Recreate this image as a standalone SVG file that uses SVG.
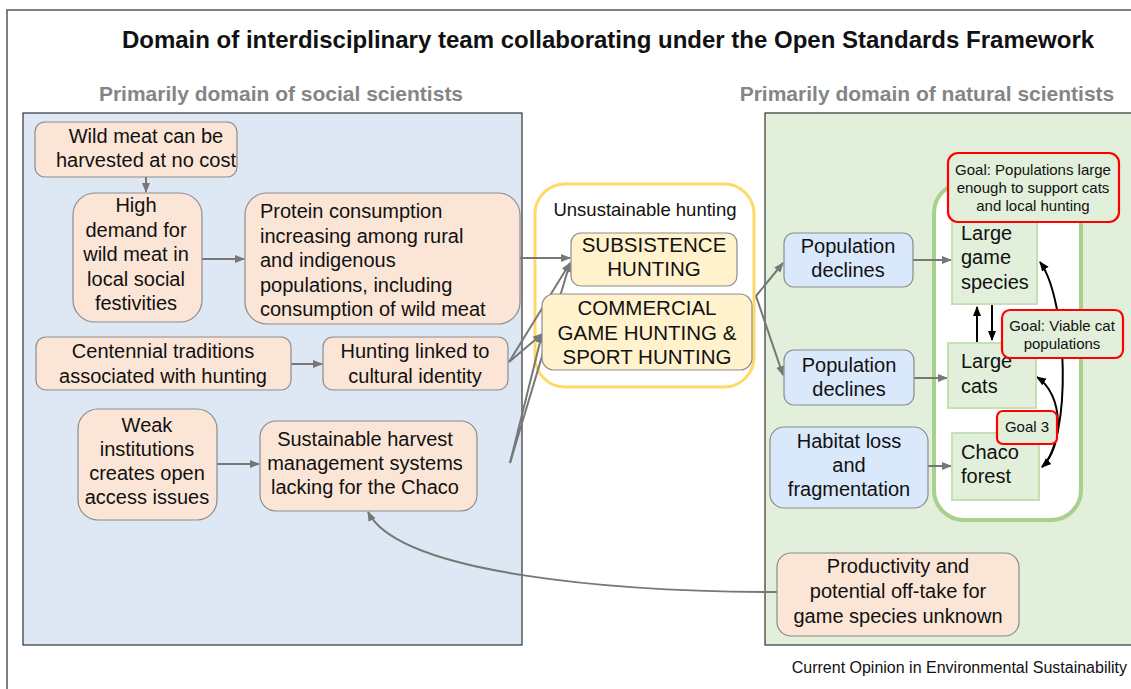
<svg xmlns="http://www.w3.org/2000/svg" width="1131" height="689" viewBox="0 0 1131 689">
<defs>
<style>
text{font-family:"Liberation Sans",Arial,sans-serif;fill:#111}
.t{font-size:20px;text-anchor:middle}
.tl{font-size:20px}
.g{font-size:15px;text-anchor:middle}
.peach{fill:#fbe5d6;stroke:#8c8c8c;stroke-width:1.2}
.blue{fill:#dae8fc;stroke:#8c8c8c;stroke-width:1.2}
.yel{fill:#fff2cc;stroke:#8c8c8c;stroke-width:1.2}
.gb{fill:#e2efda;stroke:#c5e0b4;stroke-width:2}
.goal{fill:#e2efda;stroke:#ff0000;stroke-width:2.2}
.c{fill:none;stroke:#777;stroke-width:2}
.k{fill:none;stroke:#000;stroke-width:2}
</style>
<marker id="ag" viewBox="0 0 10 10" refX="9" refY="5" markerWidth="5" markerHeight="5" orient="auto-start-reverse"><path d="M0,1 L10,5 L0,9 z" fill="#777"/></marker>
<marker id="ak" viewBox="0 0 10 10" refX="9" refY="5" markerWidth="5" markerHeight="5" orient="auto-start-reverse"><path d="M0,1 L10,5 L0,9 z" fill="#000"/></marker>
</defs>
<rect width="1131" height="689" fill="#fff"/>
<path d="M7,689 V10 H1131" fill="none" stroke="#555" stroke-width="1.5"/>
<text x="608" y="48" style="font-size:24px;font-weight:bold;text-anchor:middle">Domain of interdisciplinary team collaborating under the Open Standards Framework</text>
<text x="281" y="101" style="font-size:21px;font-weight:bold;text-anchor:middle;fill:#858585">Primarily domain of social scientists</text>
<text x="927" y="101" style="font-size:21px;font-weight:bold;text-anchor:middle;fill:#858585">Primarily domain of natural scientists</text>
<text x="1127" y="673" style="font-size:16px;text-anchor:end">Current Opinion in Environmental Sustainability</text>

<g id="panel-social"><rect x="23" y="113" width="499" height="532" fill="#dde8f4" stroke="#333" stroke-width="1.2"/></g>
<g id="panel-natural"><rect x="765" y="113" width="370" height="532" fill="#e2efda" stroke="#333" stroke-width="1.2"/></g>

<g id="unsustainable">
<rect x="535" y="184" width="219" height="203" rx="30" fill="#fff" stroke="#ffd966" stroke-width="3"/>
<text x="645" y="216" style="font-size:18.5px;text-anchor:middle">Unsustainable hunting</text>
</g>
<g id="natural-container"><rect x="934" y="183" width="147" height="337" rx="30" fill="#fff" stroke="#a9d18e" stroke-width="4"/></g>

<g id="connectors">
<path class="c" d="M146,177 V192" marker-end="url(#ag)"/>
<path class="c" d="M202,259 H244" marker-end="url(#ag)"/>
<path class="c" d="M291,364 H322" marker-end="url(#ag)"/>
<path class="c" d="M217,464 H259" marker-end="url(#ag)"/>
<path class="c" d="M520,258 H570" marker-end="url(#ag)"/>
<path class="c" d="M509,362 L570,263" marker-end="url(#ag)"/>
<path class="c" d="M509,362 L542,334" marker-end="url(#ag)"/>
<path class="c" d="M510,463 L570,263" marker-end="url(#ag)"/>
<path class="c" d="M510,463 L542,334" marker-end="url(#ag)"/>
<path class="c" d="M756,296 L783,263" marker-end="url(#ag)"/>
<path class="c" d="M756,296 L783,375" marker-end="url(#ag)"/>
<path class="c" d="M913,260 H951" marker-end="url(#ag)"/>
<path class="c" d="M914,378 H947" marker-end="url(#ag)"/>
<path class="c" d="M928,466 H951" marker-end="url(#ag)"/>
<path class="c" d="M778,592 C620,592 400,575 368,512" marker-end="url(#ag)"/>
<path class="k" d="M977,342 V307" marker-end="url(#ak)"/>
<path class="k" d="M992,304 V340" marker-end="url(#ak)"/>
<path class="k" d="M1042,467 C1072,440 1068,300 1040,262" marker-start="url(#ak)" marker-end="url(#ak)"/>
<path class="k" d="M1042,467 C1064,445 1064,395 1037,377" marker-end="url(#ak)"/>
</g>

<g id="n-wildmeat"><rect class="peach" x="35" y="122" width="202" height="55" rx="10"/>
<text class="t" x="146" y="143">Wild meat can be</text><text class="t" x="146" y="167">harvested at no cost</text></g>
<g id="n-highdemand"><rect class="peach" x="73" y="193" width="129" height="129" rx="22"/>
<text class="t" x="136" y="212">High</text><text class="t" x="136" y="236.5">demand for</text><text class="t" x="136" y="261">wild meat in</text><text class="t" x="136" y="285.5">local social</text><text class="t" x="136" y="310">festivities</text></g>
<g id="n-protein"><rect class="peach" x="245" y="193" width="275" height="131" rx="22"/>
<text class="tl" x="260" y="218">Protein consumption</text><text class="tl" x="260" y="242.5">increasing among rural</text><text class="tl" x="260" y="267">and indigenous</text><text class="tl" x="260" y="291.5">populations, including</text><text class="tl" x="260" y="316">consumption of wild meat</text></g>
<g id="n-centennial"><rect class="peach" x="36" y="337" width="255" height="53" rx="10"/>
<text class="t" x="163" y="358">Centennial traditions</text><text class="t" x="163" y="383">associated with hunting</text></g>
<g id="n-identity"><rect class="peach" x="323" y="337" width="185" height="53" rx="10"/>
<text class="t" x="415" y="358">Hunting linked to</text><text class="t" x="415" y="383">cultural identity</text></g>
<g id="n-weak"><rect class="peach" x="78" y="409" width="139" height="111" rx="20"/>
<text class="t" x="147" y="432">Weak</text><text class="t" x="147" y="456">institutions</text><text class="t" x="147" y="480">creates open</text><text class="t" x="147" y="504">access issues</text></g>
<g id="n-sustainable"><rect class="peach" x="260" y="421" width="217" height="90" rx="16"/>
<text class="t" x="365" y="446">Sustainable harvest</text><text class="t" x="365" y="470">management systems</text><text class="t" x="365" y="494">lacking for the Chaco</text></g>

<g id="n-subsistence"><rect class="yel" x="571" y="233" width="166" height="53" rx="10"/>
<text class="t" x="654" y="252" style="font-size:20.5px">SUBSISTENCE</text><text class="t" x="654" y="276" style="font-size:20.5px">HUNTING</text></g>
<g id="n-commercial"><rect class="yel" x="542" y="294" width="210" height="76" rx="12"/>
<text class="t" x="647" y="315" style="font-size:20.5px">COMMERCIAL</text><text class="t" x="647" y="339.5" style="font-size:20.5px">GAME HUNTING &amp;</text><text class="t" x="647" y="364" style="font-size:20.5px">SPORT HUNTING</text></g>

<g id="n-popdec1"><rect class="blue" x="784" y="233" width="129" height="54" rx="10"/>
<text class="t" x="848" y="253">Population</text><text class="t" x="848" y="277">declines</text></g>
<g id="n-popdec2"><rect class="blue" x="784" y="350" width="130" height="55" rx="10"/>
<text class="t" x="849" y="372">Population</text><text class="t" x="849" y="396">declines</text></g>
<g id="n-habitat"><rect class="blue" x="770" y="427" width="158" height="81" rx="14"/>
<text class="t" x="849" y="448">Habitat loss</text><text class="t" x="849" y="472">and</text><text class="t" x="849" y="496">fragmentation</text></g>

<g id="n-game"><rect class="gb" x="952" y="218" width="85" height="86"/>
<text class="tl" x="961" y="240">Large</text><text class="tl" x="961" y="264">game</text><text class="tl" x="961" y="288.5">species</text></g>
<g id="n-cats"><rect class="gb" x="948" y="343" width="88" height="65"/>
<text class="tl" x="961" y="368">Large</text><text class="tl" x="961" y="393">cats</text></g>
<g id="n-chaco"><rect class="gb" x="952" y="433" width="87" height="67"/>
<text class="tl" x="961" y="459">Chaco</text><text class="tl" x="961" y="483">forest</text></g>

<g id="goal1"><rect class="goal" x="948" y="153" width="171" height="69" rx="10"/>
<text class="g" x="1033" y="175">Goal: Populations large</text><text class="g" x="1033" y="193">enough to support cats</text><text class="g" x="1033" y="211">and local hunting</text></g>
<g id="goal2"><rect class="goal" x="1002" y="310" width="121" height="48" rx="8"/>
<text class="g" x="1062" y="331">Goal: Viable cat</text><text class="g" x="1062" y="349">populations</text></g>
<g id="goal3"><rect class="goal" x="997" y="411" width="60" height="33" rx="6"/>
<text class="g" x="1027" y="432">Goal 3</text></g>

<g id="n-productivity"><rect class="peach" x="777" y="553" width="242" height="83" rx="14"/>
<text class="t" x="898" y="573">Productivity and</text><text class="t" x="898" y="598">potential off-take for</text><text class="t" x="898" y="623">game species unknown</text></g>
</svg>
